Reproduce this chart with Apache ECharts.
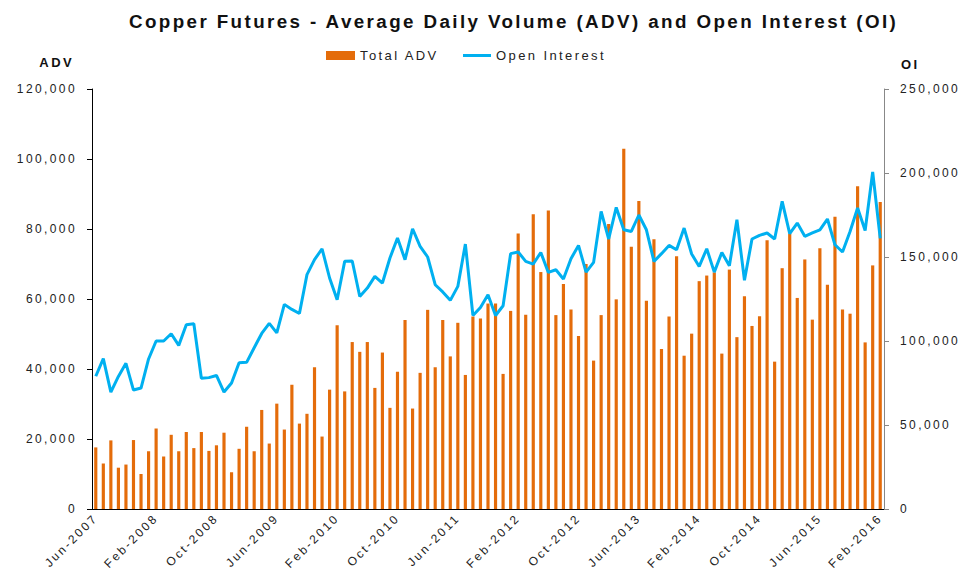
<!DOCTYPE html>
<html>
<head>
<meta charset="utf-8">
<script src="https://cdn.jsdelivr.net/npm/echarts@6/dist/echarts.min.js"></script>
<style>
  html, body { margin: 0; padding: 0; background: #fff; }
  #chart { width: 970px; height: 575px; }
  /* old excel export look: wide letter spacing */
  #chart text { letter-spacing: 2.4px; }
</style>
</head>
<body>
<div id="chart"></div>
<script>
// months, Jun-2007 .. Feb-2016
var months = [
  'Jun-2007', 'Jul-2007', 'Aug-2007', 'Sep-2007', 'Oct-2007', 'Nov-2007', 'Dec-2007',
  'Jan-2008', 'Feb-2008', 'Mar-2008', 'Apr-2008', 'May-2008', 'Jun-2008', 'Jul-2008', 'Aug-2008', 'Sep-2008', 'Oct-2008', 'Nov-2008', 'Dec-2008',
  'Jan-2009', 'Feb-2009', 'Mar-2009', 'Apr-2009', 'May-2009', 'Jun-2009', 'Jul-2009', 'Aug-2009', 'Sep-2009', 'Oct-2009', 'Nov-2009', 'Dec-2009',
  'Jan-2010', 'Feb-2010', 'Mar-2010', 'Apr-2010', 'May-2010', 'Jun-2010', 'Jul-2010', 'Aug-2010', 'Sep-2010', 'Oct-2010', 'Nov-2010', 'Dec-2010',
  'Jan-2011', 'Feb-2011', 'Mar-2011', 'Apr-2011', 'May-2011', 'Jun-2011', 'Jul-2011', 'Aug-2011', 'Sep-2011', 'Oct-2011', 'Nov-2011', 'Dec-2011',
  'Jan-2012', 'Feb-2012', 'Mar-2012', 'Apr-2012', 'May-2012', 'Jun-2012', 'Jul-2012', 'Aug-2012', 'Sep-2012', 'Oct-2012', 'Nov-2012', 'Dec-2012',
  'Jan-2013', 'Feb-2013', 'Mar-2013', 'Apr-2013', 'May-2013', 'Jun-2013', 'Jul-2013', 'Aug-2013', 'Sep-2013', 'Oct-2013', 'Nov-2013', 'Dec-2013',
  'Jan-2014', 'Feb-2014', 'Mar-2014', 'Apr-2014', 'May-2014', 'Jun-2014', 'Jul-2014', 'Aug-2014', 'Sep-2014', 'Oct-2014', 'Nov-2014', 'Dec-2014',
  'Jan-2015', 'Feb-2015', 'Mar-2015', 'Apr-2015', 'May-2015', 'Jun-2015', 'Jul-2015', 'Aug-2015', 'Sep-2015', 'Oct-2015', 'Nov-2015', 'Dec-2015',
  'Jan-2016', 'Feb-2016'
];

// Total ADV (left axis)
var totalAdv = [
  17600, 13000, 19600, 11800, 12700, 19700, 10000,
  16500, 23000, 15000, 21200, 16500, 22000, 17400, 22000, 16600, 18200, 21800, 10500,
  17200, 23500, 16500, 28300, 18700, 30100, 22700, 35500, 24400, 27200, 40500, 20700,
  34100, 52500, 33600, 47700, 44900, 47700, 34600, 44700, 28900, 39200, 54000, 28700,
  38900, 56900, 40500, 54000, 43600, 53200, 38300, 55000, 54400, 58700, 58700, 38600,
  56600, 78700, 55500, 84200, 67700, 85300, 55400, 64300, 57000, 49400, 70000, 42400,
  55400, 81400, 59900, 102900, 74900, 88000, 59500, 77100, 45700, 55000, 72200, 43800,
  50100, 65100, 66700, 67600, 44400, 68400, 49100, 60800, 52300, 55100, 76800, 42100,
  68800, 78700, 60300, 71300, 54100, 74500, 64100, 83500, 57000, 55800, 92200, 47600,
  69600, 87700
];

// Open Interest (right axis)
var openInterest = [
  79000, 89500, 69600, 78900, 86700, 70800, 72000,
  89300, 100000, 100000, 104300, 97400, 109700, 110300, 77800, 78200, 79500, 69600, 75000,
  87100, 87300, 96000, 104500, 110500, 104800, 121800, 118800, 116400, 139500, 148400, 154900,
  137500, 124600, 147400, 147600, 126500, 131500, 138500, 134500, 149400, 161300, 148400, 166800,
  156300, 150000, 133500, 129200, 124200, 132500, 157700, 115200, 120000, 127500, 115200, 121000,
  152000, 153000, 147400, 145800, 152700, 140800, 142400, 136900, 149000, 156900, 141000, 146800,
  177100, 160700, 179500, 166200, 165200, 175000, 166200, 147400, 152000, 156900, 154300, 167200,
  151800, 144400, 154900, 141000, 152700, 144800, 172200, 136100, 160700, 162900, 164300, 160700,
  183100, 163900, 170200, 162300, 164300, 166200, 172600, 157300, 153000, 165200, 179200, 165800,
  200600, 161100
];

var advTicks = [0, 20000, 40000, 60000, 80000, 100000, 120000];
var oiTicks = [0, 50000, 100000, 150000, 200000, 250000];

var textColor = '#222';
var fontName = 'Liberation Sans';

function fmt(v) {
  return String(v).replace(/\B(?=(\d{3})+(?!\d))/g, ',');
}

var legendText = { fontFamily: fontName, fontSize: 13, color: textColor };

var chart = echarts.init(document.getElementById('chart'), null, { renderer: 'svg' });
var option = {
  animation: false,
  backgroundColor: '#fff',
  title: {
    text: 'Copper Futures - Average Daily Volume (ADV) and Open Interest (OI)',
    left: 129,
    top: 12,
    padding: 0,
    textStyle: {
      fontFamily: fontName,
      fontSize: 18.8,
      fontWeight: 'bold',
      color: '#111'
    }
  },
  legend: [
    {
      top: 49,
      left: 326,
      padding: 0,
      itemWidth: 29,
      itemHeight: 9,
      data: [{ name: 'Total ADV', icon: 'rect' }],
      textStyle: legendText
    },
    {
      top: 49,
      left: 463,
      padding: 0,
      itemWidth: 28,
      itemHeight: 9,
      data: [{ name: 'Open Interest', icon: 'path://M0,0H28V3H0Z' }],
      textStyle: legendText
    }
  ],
  grid: {
    left: 92,
    right: 86,
    top: 89,
    bottom: 66,
    containLabel: false
  },
  xAxis: {
    type: 'category',
    data: months,
    boundaryGap: true,
    axisLine: { lineStyle: { color: '#000', width: 1 } },
    axisTick: { interval: 7, length: 5, lineStyle: { color: '#000' } },
    axisLabel: {
      interval: 7,
      rotate: 45,
      margin: 7,
      fontFamily: fontName,
      fontSize: 12,
      color: textColor
    }
  },
  yAxis: [
    {
      type: 'value',
      name: 'ADV',
      nameLocation: 'end',
      nameGap: 20,
      nameTextStyle: {
        fontFamily: fontName,
        fontSize: 13,
        fontWeight: 'bold',
        color: '#111',
        align: 'right',
        padding: [0, 18, 0, 0]
      },
      min: advTicks[0],
      max: advTicks[advTicks.length - 1],
      interval: advTicks[1] - advTicks[0],
      axisLine: { show: true, lineStyle: { color: '#000' } },
      axisTick: { show: true, length: 5, lineStyle: { color: '#000' } },
      splitLine: { show: false },
      axisLabel: {
        margin: 15,
        fontFamily: fontName,
        fontSize: 12,
        color: textColor,
        formatter: fmt
      }
    },
    {
      type: 'value',
      name: 'OI',
      nameLocation: 'end',
      nameGap: 18,
      nameTextStyle: {
        fontFamily: fontName,
        fontSize: 13,
        fontWeight: 'bold',
        color: '#111',
        align: 'left',
        padding: [0, 0, 0, 17]
      },
      min: oiTicks[0],
      max: oiTicks[oiTicks.length - 1],
      interval: oiTicks[1] - oiTicks[0],
      axisLine: { show: true, lineStyle: { color: '#888' } },
      axisTick: { show: true, length: 5, lineStyle: { color: '#888' } },
      splitLine: { show: false },
      axisLabel: {
        margin: 16,
        fontFamily: fontName,
        fontSize: 12,
        color: textColor,
        formatter: fmt
      }
    }
  ],
  series: [
    {
      name: 'Total ADV',
      type: 'bar',
      yAxisIndex: 0,
      barWidth: '42%',
      itemStyle: { color: '#E46C0A' },
      data: totalAdv
    },
    {
      name: 'Open Interest',
      type: 'line',
      yAxisIndex: 1,
      symbol: 'none',
      lineStyle: { color: '#00B0F0', width: 3 },
      itemStyle: { color: '#00B0F0' },
      data: openInterest
    }
  ]
};
chart.setOption(option);
</script>
</body>
</html>
